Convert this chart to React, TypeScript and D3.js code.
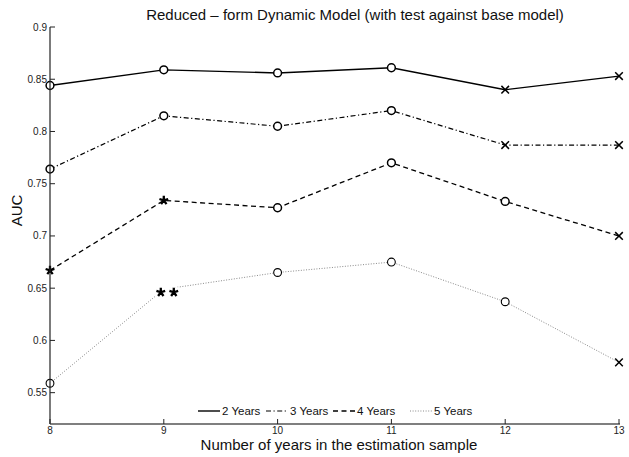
import * as d3 from "d3";
import React from "react";

// estimation sample sizes (x axis)
const years = [8, 9, 10, 11, 12, 13];

// AUC per forecast horizon
const auc2 = [0.844, 0.859, 0.856, 0.861, 0.840, 0.853];
const auc3 = [0.764, 0.815, 0.805, 0.820, 0.787, 0.787];
const auc4 = [0.667, 0.734, 0.727, 0.770, 0.733, 0.700];
const auc5 = [0.559, 0.649, 0.665, 0.675, 0.637, 0.579];

// marker drawn at each point: o = no diff, x = worse, * / ** = significant
const mark2 = ["o", "o", "o", "o", "x", "x"];
const mark3 = ["o", "o", "o", "o", "x", "x"];
const mark4 = ["*", "*", "o", "o", "o", "x"];
const mark5 = ["o", "**", "o", "o", "o", "x"];

const seriesNames = ["2 Years", "3 Years", "4 Years", "5 Years"];
const yTicks = [0.55, 0.6, 0.65, 0.7, 0.75, 0.8, 0.85, 0.9];

const title = "Reduced \u2013 form Dynamic Model (with test against base model)";
const xTitle = "Number of years in the estimation sample";
const yTitle = "AUC";

const W = 629;
const H = 457;
const font = "'Liberation Sans', Arial, Helvetica, sans-serif";

const styles = [
  { stroke: "#000", width: 1.4, dash: undefined },
  { stroke: "#000", width: 1.2, dash: "5,2.5,1.2,2.5" },
  { stroke: "#000", width: 1.3, dash: "5,3.5" },
  { stroke: "#8a8a8a", width: 1, dash: "1,1.6" },
];

const legendX = [198, 266, 333, 410];

// five-armed asterisk
const star = (cx: number, cy: number, r: number) => {
  let d = "";
  for (let a = 0; a < 5; a++) {
    const ang = (-90 + a * 72) * (Math.PI / 180);
    d += `M${cx},${cy}L${cx + r * Math.cos(ang)},${cy + r * Math.sin(ang)}`;
  }
  return d;
};

const Marker = ({ kind, cx, cy, thin }: { kind: string; cx: number; cy: number; thin: boolean }) => {
  if (kind === "o") {
    return <circle cx={cx} cy={cy} r={3.9} fill="#fff" stroke="#000" strokeWidth={thin ? 1.1 : 1.5} />;
  }
  if (kind === "x") {
    const s = 3.8;
    return (
      <path
        d={`M${cx - s},${cy - s}L${cx + s},${cy + s}M${cx - s},${cy + s}L${cx + s},${cy - s}`}
        stroke="#000"
        strokeWidth={1.5}
        fill="none"
      />
    );
  }
  const d = kind === "**" ? star(cx - 3, cy + 3, 4.6) + star(cx + 10, cy + 3, 4.6) : star(cx, cy, 4.6);
  return (
    <g>
      {kind === "**" && <rect x={cx - 8} y={cy - 2} width={23} height={10} fill="#fff" />}
      <path d={d} stroke="#000" strokeWidth={2.3} strokeLinecap="butt" fill="none" />
    </g>
  );
};

export default function App() {
  const x = d3.scaleLinear().domain([8, 13]).range([50, 619]);
  const y = d3.scaleLinear().domain([0.52, 0.9]).range([424, 27]);

  const values = [auc2, auc3, auc4, auc5];
  const marks = [mark2, mark3, mark4, mark5];

  const line = d3
    .line<number>()
    .x((_, i) => x(years[i]))
    .y((d) => y(d));

  return (
    <svg width={W} height={H} style={{ position: "absolute", left: 0, top: 0, background: "#fff" }}>
      <rect width={W} height={H} fill="#fff" />

      {/* title */}
      <text x={355} y={20} textAnchor="middle" fontFamily={font} fontSize={15} fill="#111">
        {title}
      </text>

      {/* series lines */}
      {values.map((v, k) => (
        <path
          key={"l" + k}
          d={line(v) ?? ""}
          fill="none"
          stroke={styles[k].stroke}
          strokeWidth={styles[k].width}
          strokeDasharray={styles[k].dash}
        />
      ))}

      {/* markers */}
      {values.map((v, k) => (
        <g key={"m" + k}>
          {v.map((d, i) => (
            <Marker key={i} kind={marks[k][i]} cx={x(years[i])} cy={y(d)} thin={k === 3} />
          ))}
        </g>
      ))}

      {/* y axis */}
      <line x1={50} x2={50} y1={y(0.9)} y2={424} stroke="#222" strokeWidth={1.2} />
      {yTicks.map((t) => (
        <g key={"yt" + t}>
          <line x1={50} x2={55} y1={y(t)} y2={y(t)} stroke="#222" strokeWidth={1} />
          <text x={47} y={y(t) + 3.5} textAnchor="end" fontFamily={font} fontSize={10} fill="#222">
            {d3.format("")(t)}
          </text>
        </g>
      ))}

      {/* x axis */}
      <line x1={50} x2={620} y1={424} y2={424} stroke="#555" strokeWidth={1.5} />
      {years.map((t) => (
        <g key={"xt" + t}>
          <line x1={x(t)} x2={x(t)} y1={424} y2={419} stroke="#222" strokeWidth={1} />
          <text x={x(t)} y={433.5} textAnchor="middle" fontFamily={font} fontSize={10} fill="#222">
            {t}
          </text>
        </g>
      ))}

      {/* axis titles */}
      <text x={339} y={450} textAnchor="middle" fontFamily={font} fontSize={15} fill="#111">
        {xTitle}
      </text>
      <text
        transform="translate(22,210.5) rotate(-90)"
        textAnchor="middle"
        fontFamily={font}
        fontSize={15}
        fill="#111"
      >
        {yTitle}
      </text>

      {/* legend */}
      {seriesNames.map((n, k) => (
        <g key={"lg" + k}>
          <line
            x1={legendX[k]}
            x2={legendX[k] + 22}
            y1={411}
            y2={411}
            stroke={styles[k].stroke}
            strokeWidth={styles[k].width}
            strokeDasharray={styles[k].dash}
          />
          <text x={legendX[k] + 24} y={415} fontFamily={font} fontSize={11.5} fill="#111">
            {n}
          </text>
        </g>
      ))}
    </svg>
  );
}
